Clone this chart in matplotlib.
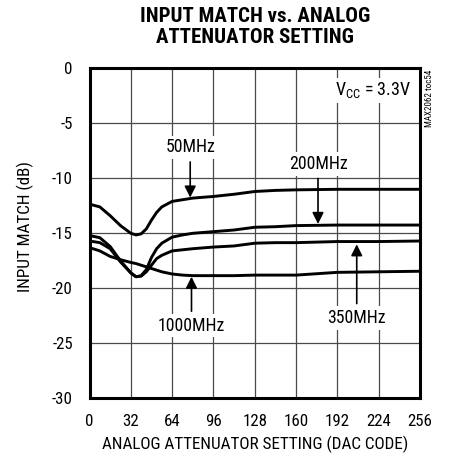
import matplotlib
matplotlib.use("Agg")
import matplotlib.pyplot as plt

FONT = ["Roboto Condensed", "Archivo Narrow", "DejaVu Sans"]
plt.rcParams["font.family"] = FONT
plt.rcParams["mathtext.fontset"] = "custom"
plt.rcParams["mathtext.rm"] = "Roboto Condensed"

# DAC code vs input match (dB)
codes = [0, 8, 16, 24, 32, 36, 40, 44, 48, 52, 56, 64, 72, 80, 96, 112, 128, 144, 160, 192, 224, 256]
match_50 = [-12.35, -12.6, -13.4, -14.3, -15.0, -15.15, -15.05, -14.6, -13.8, -13.1, -12.6, -12.1,
            -11.95, -11.8, -11.65, -11.45, -11.2, -11.1, -11.05, -11.0, -11.0, -11.0]
match_200 = [-15.2, -15.4, -16.2, -17.5, -18.6, -18.95, -18.85, -18.3, -17.2, -16.4, -15.9, -15.35,
             -15.15, -15.0, -14.85, -14.7, -14.45, -14.4, -14.3, -14.25, -14.25, -14.25]
match_350 = [-15.7, -15.85, -16.4, -17.6, -18.6, -18.95, -18.9, -18.5, -17.9, -17.3, -17.0, -16.6,
             -16.5, -16.4, -16.25, -16.15, -15.9, -15.85, -15.85, -15.75, -15.75, -15.7]
match_1000 = [-16.3, -16.6, -17.1, -17.4, -17.65, -17.75, -17.9, -18.05, -18.2, -18.35, -18.5, -18.7,
              -18.8, -18.85, -18.85, -18.85, -18.8, -18.8, -18.8, -18.55, -18.5, -18.45]

xticks = [0, 32, 64, 96, 128, 160, 192, 224, 256]
yticks = [0, -5, -10, -15, -20, -25, -30]

fig = plt.figure(figsize=(4.49, 4.62), dpi=100)
ax = fig.add_axes([89.5 / 449, 63.7 / 462, 330.5 / 449, 330 / 462])

for ys in (match_50, match_200, match_350, match_1000):
    ax.plot(codes, ys, color="black", lw=2.1, solid_joinstyle="round", solid_capstyle="round", zorder=3)

ax.set_xlim(0, 256)
ax.set_ylim(-30, 0)
ax.set_xticks(xticks)
ax.set_yticks(yticks)
ax.set_yticklabels([str(v) for v in yticks])
ax.tick_params(length=0, labelsize=12.2)
ax.tick_params(axis="y", pad=12)
ax.tick_params(axis="x", pad=11.5)
ax.grid(True, color="#4a4a4a", lw=0.9)
for s in ax.spines.values():
    s.set_linewidth(2.2)

ax.set_xlabel("ANALOG ATTENUATOR SETTING (DAC CODE)", fontsize=12.3, labelpad=5)
ax.set_ylabel("INPUT MATCH (dB)", fontsize=12.3)
ax.yaxis.set_label_coords(-55 / 330.5, 0.52)

fig.text(254.75 / 449, 1 - 27 / 462, "INPUT MATCH vs. ANALOG\nATTENUATOR SETTING",
         ha="center", va="center", fontsize=15, fontweight="bold", linespacing=1.15)

box = dict(boxstyle="square,pad=0.15", fc="white", ec="none")
arrow = dict(arrowstyle="-|>", color="black", lw=1.2, mutation_scale=17, shrinkA=2, shrinkB=0)
labels = [("50MHz", 78, -7.2, -11.75), ("200MHz", 177, -8.7, -14.15),
          ("350MHz", 207, -22.7, -16.0), ("1000MHz", 79, -23.4, -18.95)]
for txt, x, ty, hy in labels:
    ax.annotate(txt, xy=(x, hy), xytext=(x, ty), ha="center", va="center", fontsize=12.8,
                bbox=box, arrowprops=arrow, zorder=4)

ax.text(249, -2.0, r"V$_{\mathrm{CC}}$ = 3.3V", ha="right", va="center", fontsize=13, bbox=box, zorder=4)
fig.text(429 / 449, 1 - 70 / 462, "MAX2062 toc54", rotation=90, ha="center", va="top", fontsize=6.5)

fig.savefig("out.png", dpi=100)
